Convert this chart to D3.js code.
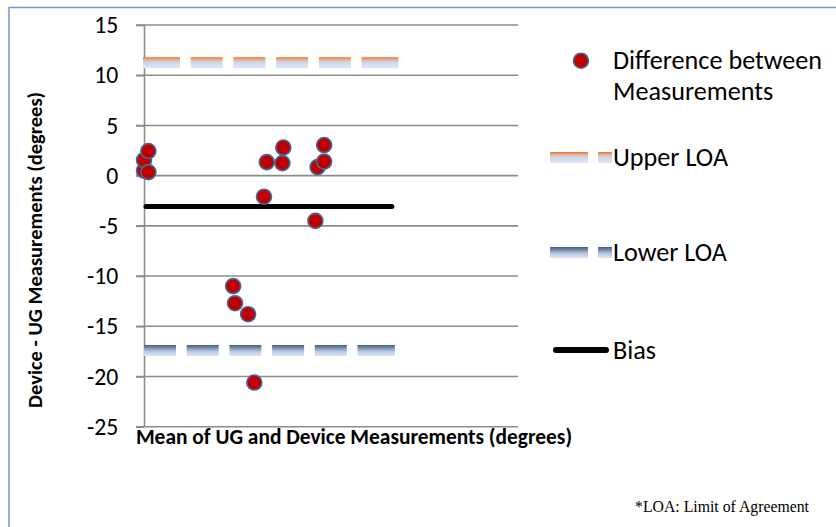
<!DOCTYPE html>
<html>
<head>
<meta charset="utf-8">
<script src="https://cdn.jsdelivr.net/npm/d3@7"></script>
<style>
body { margin: 0; background: #fff; }
svg { display: block; }
text { font-family: Carlito, Lato, sans-serif; fill: #000; }
</style>
</head>
<body>
<svg id="chart" width="836" height="527"></svg>
<script>
// Bland-Altman data : mean of UG and device (no labels on the x axis) / difference
var meanValues = [0, 0, 0.7, 0.7, 14.3, 14.6, 16.7, 17.7, 19.25, 19.7, 22.2, 22.35, 27.5, 27.85, 28.9, 28.9];
var diffValues = [0.5, 1.55, 2.45, 0.35, -11.0, -12.7, -13.8, -20.6, -2.1, 1.35, 1.25, 2.8, -4.5, 0.85, 1.4, 3.05];
var bias = -3.08;
var upperLOA = 11.25;
var lowerLOA = -17.4;
var refExtent = [0, 40];
var yTicks = [15, 10, 5, 0, -5, -10, -15, -20, -25];
var legendLabels = [["Difference between", "Measurements"], ["Upper LOA"], ["Lower LOA"], ["Bias"]];

var svg = d3.select("#chart");
var defs = svg.append("defs");

var x = d3.scaleLinear().domain([0, 60]).range([144, 518]);
var y = d3.scaleLinear().domain([-25, 15]).range([426.7, 25]);

var upperStops = [[0, "#e0742f"], [0.22, "#ebae8a"], [0.5, "#ccd8f0"], [1, "#dfe7f6"]];
var lowerStops = [[0, "#465c7e"], [0.3, "#7c92b4"], [0.6, "#b9c8e2"], [1, "#dde5f3"]];

// gradient running top->bottom across a thick horizontal stroke
function addGrad(id, stops, cy, w) {
    var gr = defs.append("linearGradient")
    .attr("id", id)
    .attr("gradientUnits", "userSpaceOnUse")
    .attr("x1", 0).attr("x2", 0)
    .attr("y1", cy - w / 2).attr("y2", cy + w / 2);
    gr.selectAll("stop")
    .data(stops)
    .enter().append("stop")
    .attr("offset", function(d) { return d[0]; })
    .attr("stop-color", function(d) { return d[1]; });
    return "url(#" + id + ")";
}

// scale a font so that one text gets the width measured on the original (Calibri is missing)
function fitFont(sel, ref, target) {
    var w = ref.node().getComputedTextLength();
    var fs = parseFloat(ref.style("font-size"));
    if (w > 0) sel.style("font-size", (fs * target / w) + "px");
}

// chart area border (only top and left are inside the picture)
svg.append("rect")
.attr("x", 9).attr("y", 7.5)
.attr("width", 840).attr("height", 530)
.attr("fill", "none")
.attr("stroke", "#6a96cf")
.attr("stroke-width", 1.5);

// gridlines
svg.append("g").selectAll("line")
.data(yTicks)
.enter().append("line")
.attr("x1", 136).attr("x2", x.range()[1])
.attr("y1", function(d) { return y(d); })
.attr("y2", function(d) { return y(d); })
.attr("stroke", "#8c8c8c")
.attr("stroke-width", 1.6);

var yAxis = svg.append("g")
.attr("transform", "translate(" + x(0) + ",0)")
.call(d3.axisLeft(y).tickValues(yTicks).tickSizeInner(8).tickSizeOuter(0).tickPadding(17.7)
    .tickFormat(function(d) { return String(d); }));
yAxis.select(".domain").attr("stroke", "#8c8c8c").attr("stroke-width", 1.6);
yAxis.selectAll(".tick line").attr("stroke", "#8c8c8c").attr("stroke-width", 1.6);
var tickText = yAxis.selectAll(".tick text")
.style("font-family", "Carlito, Lato, sans-serif")
.style("font-size", "22px")
.attr("fill", "#000");

// limits of agreement
var upperGrad = addGrad("gUp", upperStops, y(upperLOA), 11);
svg.append("line")
.attr("x1", x(refExtent[0]) - 1).attr("x2", x(refExtent[1]) + 5)
.attr("y1", y(upperLOA)).attr("y2", y(upperLOA))
.attr("stroke", upperGrad)
.attr("stroke-width", 11)
.attr("stroke-dasharray", "37 10.7 32 10.7 32 10.7 32 10.7 32 10.7 40");

var lowerGrad = addGrad("gLow", lowerStops, y(lowerLOA), 11);
svg.append("line")
.attr("x1", x(refExtent[0])).attr("x2", x(refExtent[1]) + 1.5)
.attr("y1", y(lowerLOA)).attr("y2", y(lowerLOA))
.attr("stroke", lowerGrad)
.attr("stroke-width", 11)
.attr("stroke-dasharray", "32 10.7 32 10.7 32 10.7 32 10.7 32 10.7 40");

// bias
svg.append("line")
.attr("x1", x(refExtent[0]) + 2).attr("x2", x(refExtent[1]) - 1.5)
.attr("y1", y(bias)).attr("y2", y(bias))
.attr("stroke", "#000")
.attr("stroke-width", 5)
.attr("stroke-linecap", "round");

// points
svg.append("g").selectAll("circle")
.data(meanValues)
.enter().append("circle")
.attr("cx", function(d) { return x(d); })
.attr("cy", function(d, i) { return y(diffValues[i]); })
.attr("r", 7.5)
.attr("fill", "#c00000")
.attr("stroke", "#3f6b9a")
.attr("stroke-width", 1.6);

// axis titles
var xTitle = svg.append("text")
.attr("x", 354).attr("y", 444)
.attr("text-anchor", "middle")
.style("font-size", "21px")
.style("font-weight", "bold")
.text("Mean of UG and Device Measurements (degrees)");

var yTitle = svg.append("text")
.attr("transform", "translate(41.5,250) rotate(-90)")
.attr("text-anchor", "middle")
.style("font-size", "21px")
.style("font-weight", "bold")
.text("Device - UG Measurements (degrees)");

// legend
var lg = svg.append("g").style("font-size", "25px");
var legendY = [60.7, 157.5, 252.5, 350];

lg.append("circle")
.attr("cx", 581).attr("cy", legendY[0])
.attr("r", 7.5)
.attr("fill", "#c00000")
.attr("stroke", "#3f6b9a")
.attr("stroke-width", 1.6);

[[1, upperStops, "gLegUp"], [2, lowerStops, "gLegLow"]].forEach(function(e) {
    var g = addGrad(e[2], e[1], legendY[e[0]], 11);
    lg.append("line")
    .attr("x1", 550).attr("x2", 612)
    .attr("y1", legendY[e[0]]).attr("y2", legendY[e[0]])
    .attr("stroke", g)
    .attr("stroke-width", 11)
    .attr("stroke-dasharray", "38 10 14");
});

lg.append("line")
.attr("x1", 556).attr("x2", 606)
.attr("y1", legendY[3]).attr("y2", legendY[3])
.attr("stroke", "#000")
.attr("stroke-width", 6)
.attr("stroke-linecap", "round");

var legText = lg.selectAll("text.lab")
.data(legendLabels)
.enter().append("text")
.attr("class", "lab")
.attr("x", 613)
.attr("y", function(d, i) { return legendY[i] + 8.5; })
.each(function(d) {
    var t = d3.select(this);
    d.forEach(function(line, j) {
        t.append("tspan").attr("x", 613).attr("dy", j ? 30.5 : 0).text(line);
    });
});

// footnote
var note = svg.append("text")
.attr("x", 635).attr("y", 512)
.style("font-family", "'Liberation Serif', 'Times New Roman', serif")
.style("font-size", "15.7px")
.text("*LOA: Limit of Agreement");

function fitAll() {
    fitFont(tickText, tickText.filter(function(d) { return d === 15; }), 24);
    fitFont(xTitle, xTitle, 436);
    fitFont(yTitle, yTitle, 316);
    fitFont(lg, legText.filter(function(d, i) { return i === 1; }), 115);
    fitFont(note, note, 174);
}
fitAll();
if (document.fonts) document.fonts.ready.then(fitAll);
</script>
</body>
</html>
